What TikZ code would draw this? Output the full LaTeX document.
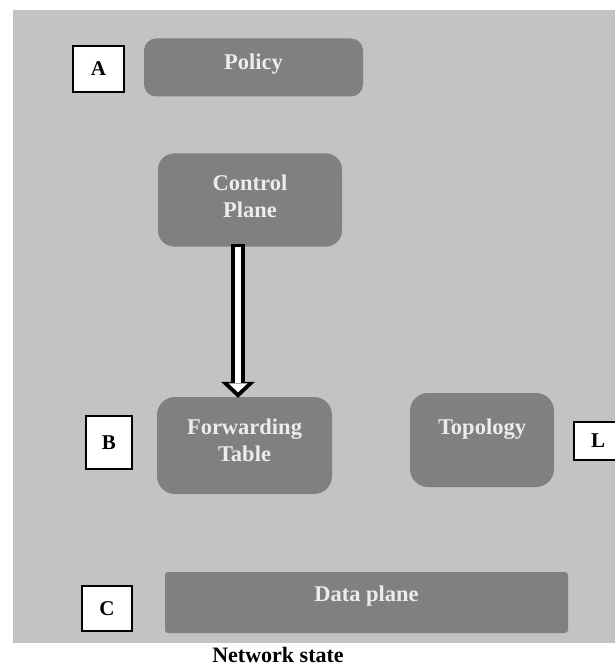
\documentclass[tikz,border=0pt]{standalone}
\usepackage{fontspec}
\setmainfont{Liberation Serif}
\usetikzlibrary{arrows.meta}

\definecolor{panelgray}{RGB}{195,195,195}
\definecolor{blockgray}{RGB}{128,128,128}
\definecolor{blocklabel}{RGB}{236,236,238}

\tikzset{
    block/.style={fill=blockgray, inner sep=0pt},
    blocktext/.style={text=blocklabel, align=center, font=\bfseries\fontsize{22.5}{27}\selectfont},
    tag/.style={draw=black, line width=1.6pt, fill=white, inner sep=0pt, font=\bfseries\fontsize{21}{24}\selectfont},
}

\begin{document}
\begin{tikzpicture}[x=1pt, y=-1pt]
        \useasboundingbox (0,0) rectangle (614,668);
        \fill[panelgray] (13,10) rectangle (620,643);

        \node[block, rounded corners=12pt, minimum width=219pt, minimum height=58pt,
              label={[blocktext, yshift=3pt]center:Policy}] (policy) at (253.5,67.5) {};
        \node[tag, minimum width=51pt, minimum height=46pt] (tagA) at (98.5,69) {A};

        \node[block, rounded corners=16pt, minimum width=184pt, minimum height=93pt,
              label={[blocktext, yshift=4pt]center:{Control\\Plane}}] (ctrl) at (250,200) {};

        \node[block, rounded corners=18pt, minimum width=175pt, minimum height=97pt,
              label={[blocktext, yshift=5pt]center:{Forwarding\\Table}}] (fwd) at (244.5,445.5) {};
        \node[tag, minimum width=46pt, minimum height=53pt] (tagB) at (109,442.5) {B};

        \node[block, rounded corners=18pt, minimum width=144pt, minimum height=94pt,
              label={[blocktext, yshift=11pt]center:Topology}] (topo) at (482,440) {};
        \node[tag, minimum width=48pt, minimum height=38pt] (tagL) at (598,441) {L};

        \node[block, rounded corners=3pt, minimum width=403pt, minimum height=61pt,
              label={[blocktext, yshift=6pt]center:Data plane}] (data) at (366.5,602.5) {};
        \node[tag, minimum width=50pt, minimum height=45pt] (tagC) at (107,608.5) {C};

        \node[anchor=base, inner sep=0pt, font=\bfseries\fontsize{22}{26}\selectfont] (netstate) at (278,662) {Network state};

        \draw[line width=14pt, -{Triangle[width=34pt,length=16pt,line width=0pt]}]
            ([xshift=-12pt,yshift=2.5pt]ctrl.south) -- ([xshift=-6.5pt,yshift=-1pt]fwd.north);
        \draw[white, line width=6.5pt, -{Triangle[width=19pt,length=9pt,line width=0pt]}]
            ([xshift=-12pt]ctrl.south) -- ([xshift=-6.5pt,yshift=4.5pt]fwd.north);

    \end{tikzpicture}
\end{document}
